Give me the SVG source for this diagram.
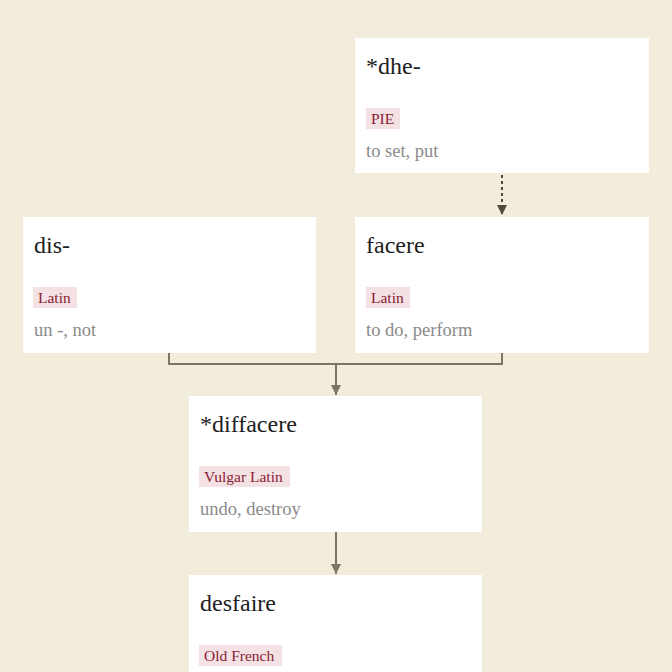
<svg xmlns="http://www.w3.org/2000/svg" width="672" height="672" viewBox="0 0 672 672">
<style>
.box{fill:#ffffff}
.title{font-family:"Liberation Serif","DejaVu Serif",serif;font-size:24px;fill:#1e1e1e}
.tagbg{fill:#f3e1e4}
.tag{font-family:"Liberation Serif","DejaVu Serif",serif;font-size:15.5px;fill:#8a1c33}
.gloss{font-family:"Liberation Serif","DejaVu Serif",serif;font-size:18.5px;fill:#8a8a8a}
.edge{fill:none;stroke:#7b7561;stroke-width:2}
.dot{fill:none;stroke:#4f4a3c;stroke-width:2;stroke-dasharray:3 3}
</style>
<defs>
<marker id="arr" viewBox="0 0 10 10" refX="10" refY="5" markerWidth="5" markerHeight="5" orient="auto"><path d="M0,0 L10,5 L0,10 z" fill="#7b7561"/></marker>
<marker id="arrd" viewBox="0 0 10 10" refX="10" refY="5" markerWidth="5" markerHeight="5" orient="auto"><path d="M0,0 L10,5 L0,10 z" fill="#4f4a3c"/></marker>
</defs>
<rect width="672" height="672" fill="#f2ecdc"/>
<g id="connectors">
<path class="dot" d="M502,175 L502,215" marker-end="url(#arrd)"/>
<path class="edge" d="M169,353 L169,364 L502,364 L502,353"/>
<path class="edge" d="M336,364 L336,395" marker-end="url(#arr)"/>
<path class="edge" d="M336,532 L336,574" marker-end="url(#arr)"/>
</g>
<g id="node-dhe">
<rect class="box" x="355" y="38" width="294" height="135"/>
<text class="title" x="366" y="74">*dhe-</text>
<rect class="tagbg" x="366" y="108" width="34" height="21"/>
<text class="tag" x="371" y="124">PIE</text>
<text class="gloss" x="366" y="157">to set, put</text>
</g>
<g id="node-dis">
<rect class="box" x="23" y="217" width="293" height="136"/>
<text class="title" x="34" y="253">dis-</text>
<rect class="tagbg" x="33" y="287" width="44" height="21"/>
<text class="tag" x="38" y="303">Latin</text>
<text class="gloss" x="34" y="336">un -, not</text>
</g>
<g id="node-facere">
<rect class="box" x="355" y="217" width="294" height="136"/>
<text class="title" x="366" y="253">facere</text>
<rect class="tagbg" x="366" y="287" width="44" height="21"/>
<text class="tag" x="371" y="303">Latin</text>
<text class="gloss" x="366" y="336">to do, perform</text>
</g>
<g id="node-diffacere">
<rect class="box" x="189" y="396" width="293" height="136"/>
<text class="title" x="200" y="432">*diffacere</text>
<rect class="tagbg" x="199" y="466" width="91" height="21"/>
<text class="tag" x="204" y="482">Vulgar Latin</text>
<text class="gloss" x="200" y="515">undo, destroy</text>
</g>
<g id="node-desfaire">
<rect class="box" x="189" y="575" width="293" height="110"/>
<text class="title" x="200" y="611">desfaire</text>
<rect class="tagbg" x="199" y="645" width="83" height="21"/>
<text class="tag" x="204" y="661">Old French</text>
</g>
</svg>
